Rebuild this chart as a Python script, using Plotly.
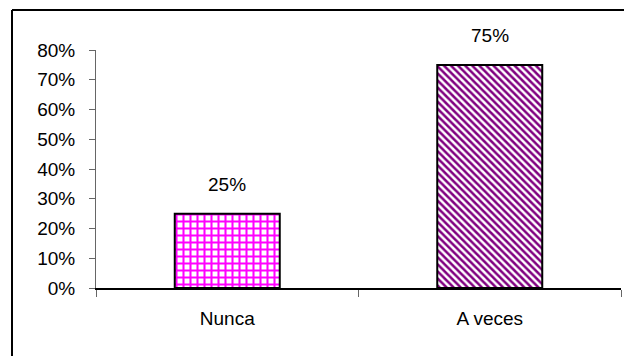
import plotly.graph_objects as go

categories = ["Nunca", "A veces"]
values = [0.25, 0.75]
value_labels = ["25%", "75%"]
tick_vals = [0, 0.1, 0.2, 0.3, 0.4, 0.5, 0.6, 0.7, 0.8]
tick_text = ["0%", "10%", "20%", "30%", "40%", "50%", "60%", "70%", "80%"]

FONT = "Liberation Sans, Arial"

fig = go.Figure()
fig.add_trace(go.Bar(
    x=categories, y=values, width=0.4,
    marker=dict(
        color="white",
        line=dict(color="black", width=2),
        pattern=dict(
            shape=["+", "\\"],
            fgcolor=["#FF00FF", "#800080"],
            fgopacity=1,
            bgcolor="white",
            size=[7, 5],
            solidity=[0.5, 0.5],
        ),
    ),
    showlegend=False,
))

for c, v, t in zip(categories, values, value_labels):
    fig.add_annotation(x=c, y=v, text=t, showarrow=False,
                       yanchor="middle", yshift=29,
                       font=dict(family=FONT, size=19, color="black"))

# outer frame (left and top visible)
fig.add_shape(type="line", xref="paper", yref="paper",
              x0=-0.16, x1=1.2, y0=1.168, y1=1.168,
              line=dict(color="black", width=2))
fig.add_shape(type="line", xref="paper", yref="paper",
              x0=-0.16, x1=-0.16, y0=1.168, y1=-0.5,
              line=dict(color="black", width=2))

fig.update_layout(
    width=624, height=356,
    margin=dict(l=96, r=3, t=50, b=68),
    paper_bgcolor="white", plot_bgcolor="white",
    font=dict(family=FONT, size=19, color="black"),
    xaxis=dict(
        showline=True, linecolor="black", linewidth=1.5,
        ticks="outside", tickson="boundaries", ticklen=7, tickcolor="#666",
        showgrid=False, ticklabelstandoff=12,
        tickfont=dict(size=19), automargin=False,
    ),
    yaxis=dict(
        range=[0, 0.8], tickvals=tick_vals, ticktext=tick_text,
        showline=True, linecolor="#666", linewidth=1,
        ticks="outside", ticklen=6, tickcolor="#666",
        showgrid=False, zeroline=False,
        tickfont=dict(size=19), ticklabelstandoff=10, automargin=False,
    ),
)

fig.write_html("out.html", config={"displayModeBar": False},
               post_script="document.body.style.margin='0';document.body.style.overflow='hidden';")
